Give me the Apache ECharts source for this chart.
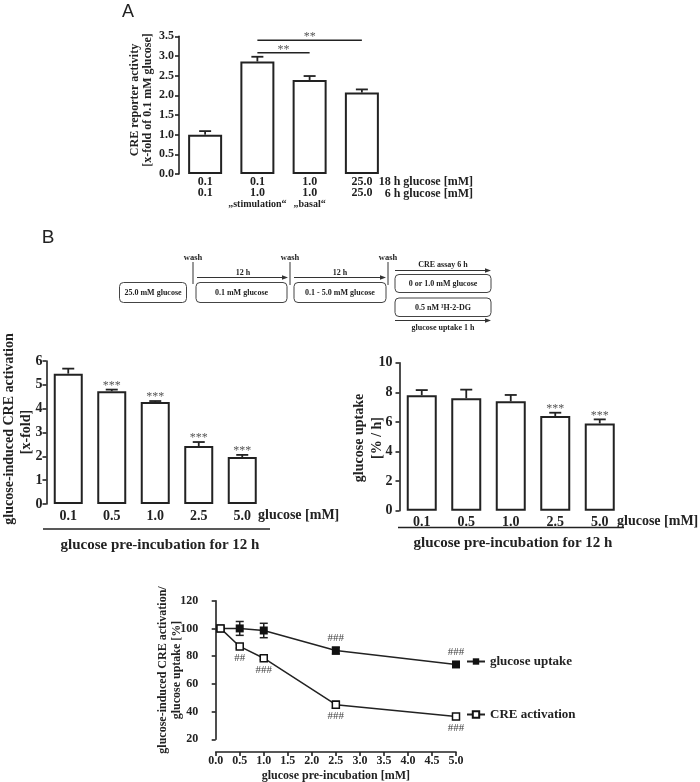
<!DOCTYPE html>
<html>
<head>
<meta charset="utf-8">
<title>CRE activation and glucose uptake</title>
<script src="https://cdn.jsdelivr.net/npm/echarts@6/dist/echarts.min.js"></script>
<style>
html, body { margin: 0; padding: 0; background: #fff; }
#main { width: 700px; height: 782px; }
</style>
</head>
<body>
<div id="main"></div>
<script>
// ---- panel A: CRE reporter activity ----
var rowA18h = ['0.1', '0.1', '1.0', '25.0'];
var rowA6h = ['0.1', '1.0', '1.0', '25.0'];
var noteA = ['', '„stimulation“', '„basal“', ''];
var creA = [1.0, 2.86, 2.39, 2.07];
var creAErr = [0.09, 0.12, 0.10, 0.08];
var sigA = [[1, 2, 3.08], [1, 3, 3.40]];   // from bar, to bar, height
var sigAText = ['**', '**'];

// ---- panel B: bar charts ----
var glucoseB = ['0.1', '0.5', '1.0', '2.5', '5.0'];
var creB = [5.47, 4.73, 4.28, 2.43, 1.97];
var creBErr = [0.21, 0.07, 0.04, 0.17, 0.09];
var creBStars = ['', '***', '***', '***', '***'];
var uptakeB = [7.8, 7.6, 7.39, 6.4, 5.9];
var uptakeBErr = [0.35, 0.58, 0.43, 0.22, 0.27];
var uptakeBStars = ['', '', '', '***', '***'];

// ---- panel B: % line chart ----
var glucoseC = [0.1, 0.5, 1.0, 2.5, 5.0];
var uptakePct = [100, 100, 98.5, 84, 74];
var uptakePctErr = [0.8, 5, 5.2, 2.5, 1.5];
var uptakeHash = ['', '', '', '###', '###'];
var crePct = [100, 87, 78.5, 45, 36.5];
var crePctErr = [0.8, 1.2, 1, 2.5, 1];
var creHash = ['', '##', '###', '###', '###'];

var SERIF = '"Liberation Serif", "DejaVu Serif", serif';
var INK = '#222';

var mychart = echarts.init(document.getElementById('main'));

// error bar going up from the bar top, optional stars above
function errUp(stars) {
	return function (params, api) {
		var i = params.dataIndex;
		var b = api.coord([api.value(0), api.value(1)]);
		var t = api.coord([api.value(0), api.value(1) + api.value(2)]);
		var kids = [
			{type: 'line', shape: {x1: b[0], y1: b[1], x2: t[0], y2: t[1]}, style: {stroke: INK, lineWidth: 1.8}},
			{type: 'line', shape: {x1: t[0] - 6, y1: t[1], x2: t[0] + 6, y2: t[1]}, style: {stroke: INK, lineWidth: 1.8}}
		];
		if (stars && stars[i]) {
			kids.push({type: 'text', style: {text: stars[i], x: t[0], y: t[1] - 4, align: 'center', verticalAlign: 'middle',
				fill: '#555', fontSize: 12, fontFamily: SERIF}});
		}
		return {type: 'group', children: kids};
	};
}

// error bar both ways (line chart)
function errBoth(params, api) {
	var lo = api.coord([api.value(0), api.value(1) - api.value(2)]);
	var hi = api.coord([api.value(0), api.value(1) + api.value(2)]);
	var st = {stroke: INK, lineWidth: 1.5};
	return {type: 'group', children: [
		{type: 'line', shape: {x1: lo[0], y1: lo[1], x2: hi[0], y2: hi[1]}, style: st},
		{type: 'line', shape: {x1: hi[0] - 4, y1: hi[1], x2: hi[0] + 4, y2: hi[1]}, style: st},
		{type: 'line', shape: {x1: lo[0] - 4, y1: lo[1], x2: lo[0] + 4, y2: lo[1]}, style: st}
	]};
}

function txt(x, y, s, size, opt) {
	opt = opt || {};
	return {
		type: 'text', x: x, y: y, rotation: opt.rot || 0, silent: true,
		style: {text: s, fill: opt.color || INK, fontFamily: opt.family || SERIF, fontWeight: opt.weight || 'bold',
			fontSize: size, align: opt.align || 'center', verticalAlign: 'middle', lineHeight: opt.lh || size + 1}
	};
}
function ln(x1, y1, x2, y2, w, c) {
	return {type: 'line', silent: true, shape: {x1: x1, y1: y1, x2: x2, y2: y2}, style: {stroke: c || INK, lineWidth: w || 1}};
}
function box(x, y, w, h) {
	return {type: 'rect', silent: true, shape: {x: x, y: y, width: w, height: h, r: 4}, style: {fill: 'none', stroke: '#444', lineWidth: 1}};
}
function arrow(x1, x2, y) {
	return [ln(x1, y, x2 - 4, y, 1, '#333'),
		{type: 'polygon', silent: true, shape: {points: [[x2, y], [x2 - 6, y - 2.2], [x2 - 6, y + 2.2]]}, style: {fill: '#333'}}];
}

var small = 8;
var schematic = [
	txt(193, 258, 'wash', 8.5), txt(290, 258, 'wash', 8.5), txt(388, 258, 'wash', 8.5),
	ln(193, 262, 193, 284, 1, '#333'), ln(290, 262, 290, 285, 1, '#333'), ln(388, 262, 388, 285, 1, '#333'),
	txt(243, 272.5, '12 h', small), txt(340, 272.5, '12 h', small),
	box(119.5, 282.5, 67, 20), txt(153, 292.5, '25.0 mM glucose', small),
	box(196, 282.5, 91, 20), txt(241.5, 292.5, '0.1 mM glucose', small),
	box(294, 282.5, 92, 20), txt(340, 292.5, '0.1 - 5.0 mM glucose', small),
	txt(443, 264.5, 'CRE assay 6 h', small),
	box(395, 274.5, 96, 18), txt(443, 283.5, '0 or 1.0 mM glucose', small),
	box(395, 298, 96, 18.5), txt(443, 307.5, '0.5 nM ³H-2-DG', small),
	txt(443, 327.5, 'glucose uptake 1 h', small)
].concat(arrow(197, 288, 277.5), arrow(294, 386, 277.5), arrow(395, 491, 270.5), arrow(395, 491, 320.5));

var labels = [
	txt(128, 12, 'A', 18, {family: '"Liberation Sans", Arial, sans-serif', weight: 'normal'}),
	txt(48, 237.5, 'B', 19, {family: '"Liberation Sans", Arial, sans-serif', weight: 'normal'}),
	// panel A
	txt(141, 100, 'CRE reporter activity\n[x-fold of 0.1 mM glucose]', 12, {rot: Math.PI / 2, lh: 13}),
	txt(473, 182, '18 h glucose [mM]', 12, {align: 'right'}),
	txt(473, 193.5, '6 h glucose [mM]', 12, {align: 'right'}),
	// panel B left
	txt(9, 429, 'glucose-induced CRE activation', 14, {rot: Math.PI / 2}),
	txt(26, 432, '[x-fold]', 14, {rot: Math.PI / 2}),
	txt(258, 515, 'glucose [mM]', 14, {align: 'left'}),
	ln(43, 529, 270, 529, 1.5),
	txt(160, 545, 'glucose pre-incubation for 12 h', 15),
	// panel B right
	txt(359, 438, 'glucose uptake', 14, {rot: Math.PI / 2}),
	txt(377, 438, '[% / h]', 14, {rot: Math.PI / 2}),
	txt(617, 521.5, 'glucose [mM]', 14, {align: 'left'}),
	ln(398, 527.5, 624, 527.5, 1.5),
	txt(513, 543, 'glucose pre-incubation for 12 h', 15),
	// line chart
	txt(170, 670, 'glucose-induced CRE activation/\nglucose uptake [%]', 12, {rot: Math.PI / 2, lh: 14})
];

function yAx(grid, min, max, step, size, margin, dec, off) {
	return {
		type: 'value', gridIndex: grid, min: min, max: max, interval: step, offset: off || 0,
		axisLine: {show: true, lineStyle: {color: INK, width: 1.6}},
		axisTick: {show: true, length: 4, lineStyle: {color: INK, width: 1.6}},
		splitLine: {show: false},
		axisLabel: {margin: margin, color: INK, fontFamily: SERIF, fontWeight: 'bold', fontSize: size,
			formatter: function (v) { return v.toFixed(dec); }}
	};
}
function xCat(grid, data, fmt, rich, margin) {
	return {
		type: 'category', gridIndex: grid, data: data,
		axisLine: {show: false}, axisTick: {show: false},
		axisLabel: {interval: 0, margin: margin, color: INK, fontFamily: SERIF, fontWeight: 'bold', fontSize: 14,
			formatter: fmt, rich: rich}
	};
}
var barStyle = {color: '#fff', borderColor: INK, borderWidth: 2};

var option = {
	animation: false,
	backgroundColor: '#fff',
	grid: [
		{left: 179, top: 36.3, width: 209, height: 137.7, outerBoundsMode: 'none'},
		{left: 46.5, top: 361, width: 217.5, height: 143, outerBoundsMode: 'none'},
		{left: 399.5, top: 362.7, width: 222.5, height: 148, outerBoundsMode: 'none'},
		{left: 215.7, top: 600.7, width: 240.3, height: 138.6, outerBoundsMode: 'none'}
	],
	xAxis: [
		xCat(0, rowA18h.map(function (v, i) { return 'c' + i; }), function (v, i) {
			var s = '{a|' + rowA18h[i] + '}\n{a|' + rowA6h[i] + '}';
			if (noteA[i]) s += '\n{n|' + noteA[i] + '}';
			return s;
		}, {
			a: {fontFamily: SERIF, fontWeight: 'bold', fontSize: 12, lineHeight: 11.5, color: INK},
			n: {fontFamily: SERIF, fontWeight: 'bold', fontSize: 10, lineHeight: 10, color: INK}
		}, 2),
		xCat(1, glucoseB, null, null, 5),
		xCat(2, glucoseB, null, null, 5),
		{
			type: 'value', gridIndex: 3, min: 0, max: 5, interval: 0.5, offset: 12.7,
			axisLine: {show: true, lineStyle: {color: INK, width: 1.6}},
			axisTick: {show: true, length: 4, lineStyle: {color: INK, width: 1.6}},
			splitLine: {show: false},
			axisLabel: {margin: 3, color: INK, fontFamily: SERIF, fontWeight: 'bold', fontSize: 12,
				formatter: function (v) { return v.toFixed(1); }},
			name: 'glucose pre-incubation [mM]', nameLocation: 'middle', nameGap: 18,
			nameTextStyle: {color: INK, fontFamily: SERIF, fontWeight: 'bold', fontSize: 12}
		}
	],
	yAxis: [
		yAx(0, 0, 3.5, 0.5, 12, 5, 1),
		yAx(1, 0, 6, 1, 14, 4, 0),
		yAx(2, 0, 10, 2, 14, 7, 0),
		yAx(3, 20, 120, 20, 12, 5, 0, 12.5)
	],
	legend: [
		{data: ['glucose uptake'], left: 466, top: 655, itemWidth: 18, itemHeight: 8, padding: 0, selectedMode: false,
			textStyle: {color: INK, fontFamily: SERIF, fontWeight: 'bold', fontSize: 13}},
		{data: ['CRE activation'], left: 466, top: 708, itemWidth: 18, itemHeight: 8, padding: 0, selectedMode: false,
			textStyle: {color: INK, fontFamily: SERIF, fontWeight: 'bold', fontSize: 13}}
	],
	graphic: schematic.concat(labels),
	series: [
		// A
		{type: 'bar', xAxisIndex: 0, yAxisIndex: 0, data: creA, barWidth: 34, itemStyle: barStyle, silent: true},
		{type: 'custom', xAxisIndex: 0, yAxisIndex: 0, z: 3, silent: true,
			data: creA.map(function (v, i) { return [i, v, creAErr[i]]; }), renderItem: errUp(null)},
		{type: 'custom', xAxisIndex: 0, yAxisIndex: 0, z: 3, silent: true, data: sigA,
			renderItem: function (params, api) {
				var p0 = api.coord([api.value(0), api.value(2)]);
				var p1 = api.coord([api.value(1), api.value(2)]);
				return {type: 'group', children: [
					{type: 'line', shape: {x1: p0[0], y1: p0[1], x2: p1[0], y2: p1[1]}, style: {stroke: INK, lineWidth: 1.5}},
					{type: 'text', style: {text: sigAText[params.dataIndex], x: (p0[0] + p1[0]) / 2, y: p0[1] - 3,
						align: 'center', verticalAlign: 'middle', fill: '#555', fontSize: 12, fontFamily: SERIF}}
				]};
			}},
		// B left
		{type: 'bar', xAxisIndex: 1, yAxisIndex: 1, data: creB, barWidth: 29, itemStyle: barStyle, silent: true},
		{type: 'custom', xAxisIndex: 1, yAxisIndex: 1, z: 3, silent: true,
			data: creB.map(function (v, i) { return [i, v, creBErr[i]]; }), renderItem: errUp(creBStars)},
		// B right
		{type: 'bar', xAxisIndex: 2, yAxisIndex: 2, data: uptakeB, barWidth: 30, itemStyle: barStyle, silent: true},
		{type: 'custom', xAxisIndex: 2, yAxisIndex: 2, z: 3, silent: true,
			data: uptakeB.map(function (v, i) { return [i, v, uptakeBErr[i]]; }), renderItem: errUp(uptakeBStars)},
		// line chart
		{type: 'custom', xAxisIndex: 3, yAxisIndex: 3, z: 2, silent: true,
			data: glucoseC.map(function (x, i) { return [x, uptakePct[i], uptakePctErr[i]]; }), renderItem: errBoth},
		{type: 'custom', xAxisIndex: 3, yAxisIndex: 3, z: 2, silent: true,
			data: glucoseC.map(function (x, i) { return [x, crePct[i], crePctErr[i]]; }), renderItem: errBoth},
		{type: 'line', name: 'glucose uptake', xAxisIndex: 3, yAxisIndex: 3, z: 4, silent: true,
			data: glucoseC.map(function (x, i) { return [x, uptakePct[i]]; }),
			symbol: 'rect', symbolSize: 8, itemStyle: {color: '#111'}, lineStyle: {color: INK, width: 1.5},
			label: {show: true, position: 'top', distance: 3, color: '#444', fontFamily: SERIF, fontSize: 11,
				formatter: function (p) { return uptakeHash[p.dataIndex]; }}},
		{type: 'line', name: 'CRE activation', xAxisIndex: 3, yAxisIndex: 3, z: 4, silent: true,
			data: glucoseC.map(function (x, i) { return [x, crePct[i]]; }),
			symbol: 'rect', symbolSize: 7, itemStyle: {color: '#fff', borderColor: '#111', borderWidth: 1.5},
			lineStyle: {color: INK, width: 1.5},
			label: {show: true, position: 'bottom', distance: 2, color: '#444', fontFamily: SERIF, fontSize: 11,
				formatter: function (p) { return creHash[p.dataIndex]; }}}
	]
};

mychart.setOption(option);
</script>
</body>
</html>
